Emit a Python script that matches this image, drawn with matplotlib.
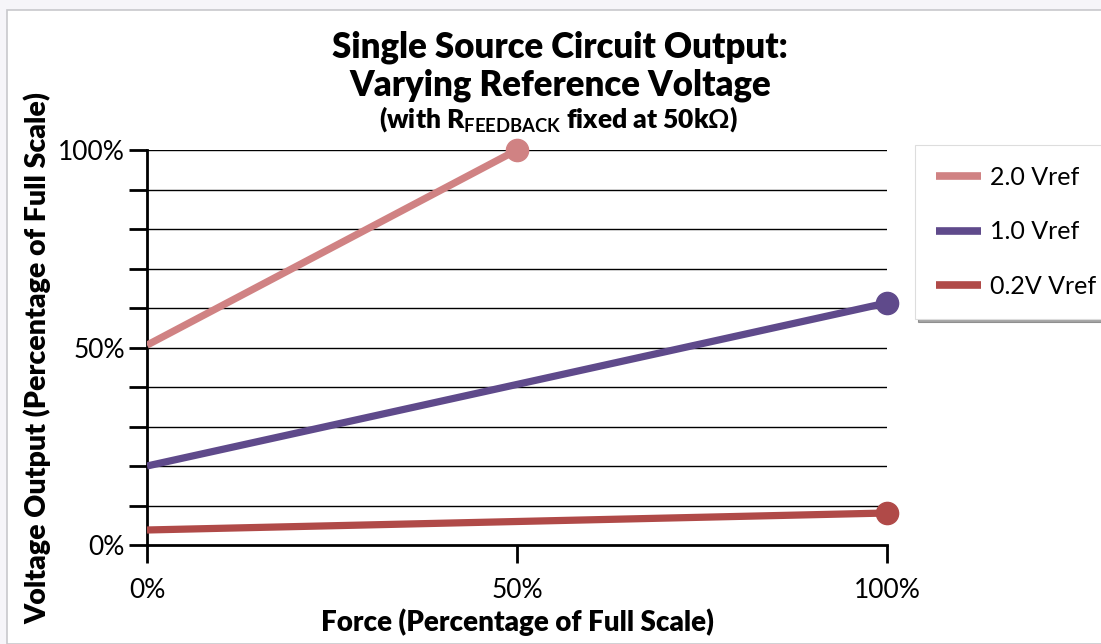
import numpy as np
import matplotlib.pyplot as plt
from matplotlib.patches import Rectangle

plt.rcParams['font.family'] = ['Lato', 'DejaVu Sans']
plt.rcParams['mathtext.fontset'] = 'custom'
plt.rcParams['mathtext.rm'] = 'Lato:bold'
plt.rcParams['mathtext.it'] = 'Lato:bold'
plt.rcParams['mathtext.bf'] = 'Lato:bold'

# data (percent of full scale)
labels = ['2.0 Vref', '1.0 Vref', '0.2V Vref']
force = [[0, 50], [0, 100], [0, 100]]
voltage = [[50.6, 100], [20.0, 61.3], [3.8, 8.1]]
colors = ['#D08283', '#5F4A8B', '#B04A48']

x_ticks = [0, 50, 100]
y_ticks = list(range(0, 101, 10))

W, H = 1101, 644
fig = plt.figure(figsize=(W / 100, H / 100), dpi=100, facecolor='#F6F5F9')
# white page area, like the screenshot
fig.patches.append(Rectangle((7 / W, 0), 1, 1 - 10 / H, transform=fig.transFigure,
                             facecolor='white', edgecolor='#C8C8CC', lw=1.2, zorder=-5))

ax = fig.add_axes([147 / W, 99 / H, 740 / W, 395 / H])
ax.set_facecolor('none')
ax.set_zorder(2)

for y in y_ticks[1:]:
    ax.axhline(y, color='black', lw=1.0, zorder=1)

for xs, ys, c, lab in zip(force, voltage, colors, labels):
    ax.plot(xs, ys, color=c, lw=5.2, solid_capstyle='butt', label=lab, zorder=3)
    ax.plot(xs[-1], ys[-1], 'o', color=c, ms=16, zorder=4, clip_on=False)

ax.set_xlim(0, 100)
ax.set_ylim(0, 100)
ax.set_xticks(x_ticks)
ax.set_xticklabels([f'{v}%' for v in x_ticks])
ax.set_yticks(y_ticks)
ax.set_yticklabels([f'{v}%' if v in (0, 50, 100) else '' for v in y_ticks])

for s in ['top', 'right']:
    ax.spines[s].set_visible(False)
for s in ['left', 'bottom']:
    ax.spines[s].set_linewidth(2)
    ax.spines[s].set_color('black')
ax.tick_params(axis='y', length=13, width=2, labelsize=19, pad=3)
ax.tick_params(axis='x', length=13, width=2, labelsize=19, pad=11)

fig.text(517 / W, 1 - 622 / H, 'Force (Percentage of Full Scale)',
         fontsize=20, fontweight='heavy', ha='center', va='center')
fig.text(38 / W, 1 - 358 / H, 'Voltage Output (Percentage of Full Scale)', rotation=90,
         fontsize=20.5, fontweight='heavy', ha='center', va='center')

fig.text(560 / W, 1 - 47 / H, 'Single Source Circuit Output:', fontsize=25,
         fontweight='heavy', ha='center', va='center')
fig.text(560 / W, 1 - 85 / H, 'Varying Reference Voltage', fontsize=25,
         fontweight='heavy', ha='center', va='center')
fig.text(559 / W, 1 - 119 / H, r'(with R$_{\mathrm{FEEDBACK}}$ fixed at 50k$\Omega$)',
         fontsize=19, fontweight='heavy', ha='center', va='center')

leg = ax.legend(loc='upper left', bbox_to_anchor=(915 / W, 1 - 145 / H),
                bbox_transform=fig.transFigure, fontsize=18, frameon=True,
                fancybox=False, shadow=True, handlelength=1.8, labelspacing=1.25,
                borderpad=0.85, handletextpad=0.35, borderaxespad=0)
leg.get_frame().set_edgecolor('#DDDDDD')
leg.get_frame().set_linewidth(0.8)
for line in leg.get_lines():
    line.set_linewidth(5.5)

fig.savefig('out.png', dpi=100, facecolor=fig.get_facecolor())
